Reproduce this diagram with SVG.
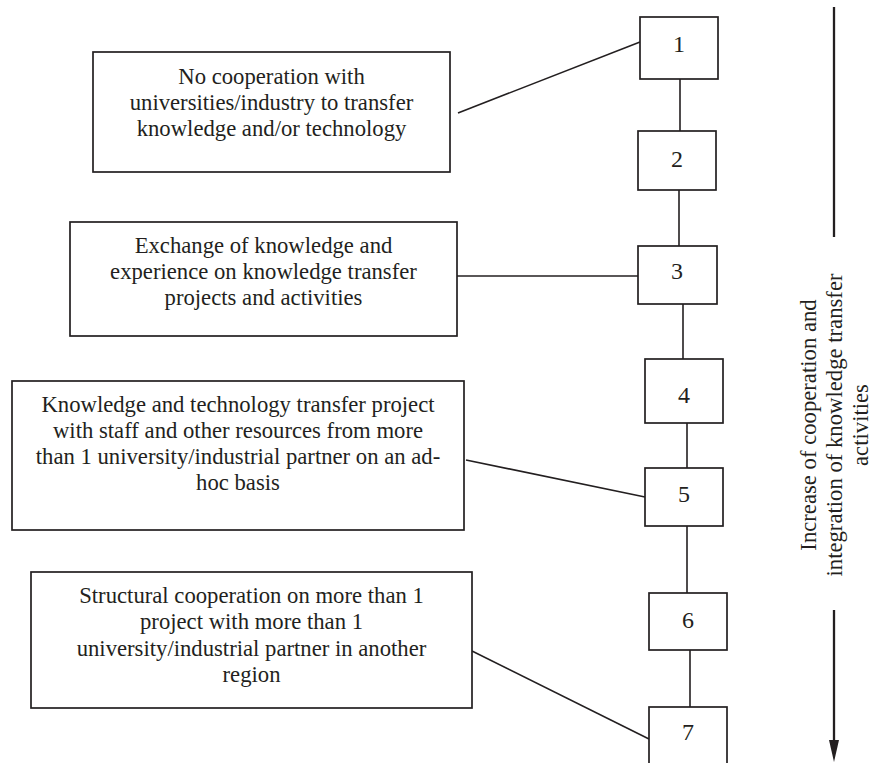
<svg xmlns="http://www.w3.org/2000/svg" width="873" height="763" viewBox="0 0 873 763">
<style>
.box{fill:#fff;stroke:#231f20;stroke-width:1.7}
.ln{stroke:#231f20;stroke-width:1.6;fill:none}
.ax{stroke:#231f20;stroke-width:2.3;fill:none}
text{font-family:"Liberation Serif","Times New Roman",serif;font-size:22.7px;fill:#231f20;text-anchor:middle}
.num{font-size:24px}
</style>
<g id="connectors">
<line class="ln" x1="680" y1="79" x2="680" y2="131"/>
<line class="ln" x1="679" y1="190" x2="679" y2="246"/>
<line class="ln" x1="683" y1="304" x2="683" y2="359"/>
<line class="ln" x1="687" y1="423" x2="687" y2="468"/>
<line class="ln" x1="687" y1="526" x2="687" y2="593"/>
<line class="ln" x1="690" y1="650" x2="690" y2="707"/>
<line class="ln" x1="458" y1="113" x2="640" y2="42"/>
<line class="ln" x1="457" y1="276" x2="638" y2="276"/>
<line class="ln" x1="466" y1="460" x2="645" y2="497"/>
<line class="ln" x1="472" y1="651" x2="649" y2="739"/>
</g>
<g id="axis">
<line class="ax" x1="834" y1="7" x2="834" y2="237"/>
<line class="ax" x1="834" y1="610" x2="834" y2="745"/>
<path d="M829,740 L839,740 L834,762 Z" fill="#231f20"/>
<text transform="translate(816,425) rotate(-90)">Increase of cooperation and</text>
<text transform="translate(842,425) rotate(-90)">integration of knowledge transfer</text>
<text transform="translate(868,425) rotate(-90)">activities</text>
</g>
<g id="boxA">
<rect class="box" x="93" y="52" width="357" height="120"/>
<text x="271.5" y="84">No cooperation with</text>
<text x="271.5" y="110">universities/industry to transfer</text>
<text x="271.5" y="136">knowledge and/or technology</text>
</g>
<g id="boxB">
<rect class="box" x="70" y="222" width="387" height="114"/>
<text x="263.5" y="253">Exchange of knowledge and</text>
<text x="263.5" y="279">experience on knowledge transfer</text>
<text x="263.5" y="305">projects and activities</text>
</g>
<g id="boxC">
<rect class="box" x="12" y="381" width="452" height="149"/>
<text x="238" y="412">Knowledge and technology transfer project</text>
<text x="238" y="438">with staff and other resources from more</text>
<text x="238" y="464">than 1 university/industrial partner on an ad-</text>
<text x="238" y="490">hoc basis</text>
</g>
<g id="boxD">
<rect class="box" x="31" y="572" width="441" height="136"/>
<text x="251.5" y="603">Structural cooperation on more than 1</text>
<text x="251.5" y="629">project with more than 1</text>
<text x="251.5" y="656">university/industrial partner in another</text>
<text x="251.5" y="682">region</text>
</g>
<g id="s1"><rect class="box" x="640" y="17" width="78" height="62"/><text class="num" x="679" y="52">1</text></g>
<g id="s2"><rect class="box" x="638" y="131" width="78" height="59"/><text class="num" x="677" y="167">2</text></g>
<g id="s3"><rect class="box" x="638" y="246" width="79" height="58"/><text class="num" x="677" y="279">3</text></g>
<g id="s4"><rect class="box" x="645" y="359" width="78" height="64"/><text class="num" x="684" y="403">4</text></g>
<g id="s5"><rect class="box" x="645" y="468" width="78" height="58"/><text class="num" x="684" y="502">5</text></g>
<g id="s6"><rect class="box" x="649" y="593" width="78" height="57"/><text class="num" x="688" y="628">6</text></g>
<g id="s7"><rect class="box" x="649" y="707" width="78" height="70"/><text class="num" x="688" y="740">7</text></g>
</svg>
